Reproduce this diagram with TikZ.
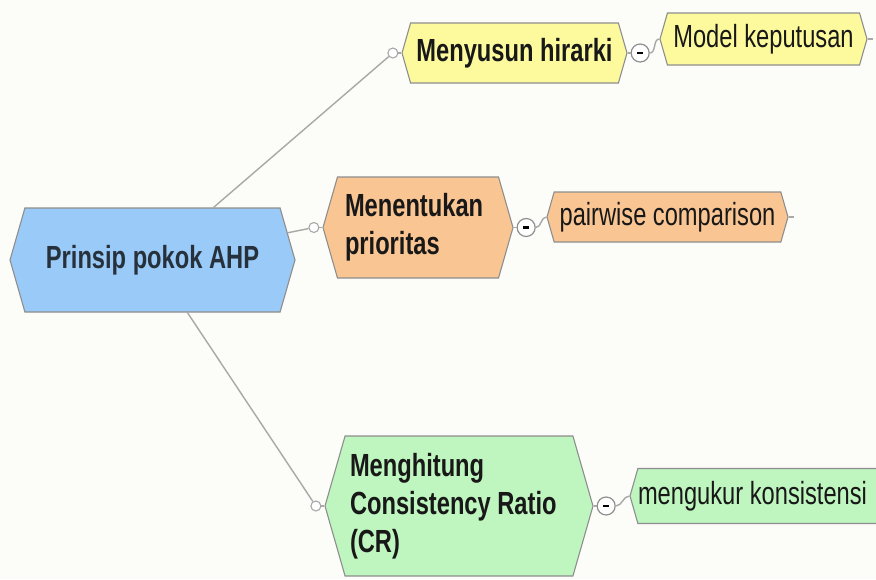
\documentclass[tikz,border=0pt]{standalone}
\usepackage{fontspec}
\setmainfont{Liberation Sans}[FakeStretch=0.74]
\usetikzlibrary{shapes.symbols,positioning}
\definecolor{blue7}{HTML}{9ACAF8}
\definecolor{yellow9}{HTML}{FDFA9E}
\definecolor{orange8}{HTML}{F9C693}
\definecolor{green9}{HTML}{BFF5BE}
\definecolor{gray5}{HTML}{8E8E8E}
\definecolor{gray6}{HTML}{A8A8A8}
\definecolor{ink}{HTML}{181818}
\definecolor{slate}{HTML}{27313C}
\definecolor{paper}{HTML}{FCFCF8}

\tikzset{
  hexa/.style={signal, signal to=west and east, signal pointer angle=148,
    draw=gray5, line width=1.1pt, inner sep=0pt, text=ink,
    font=\fontsize{32}{38}\selectfont},
  topic/.style={hexa, font=\fontsize{32}{38}\selectfont\bfseries},
  leaf/.style={hexa},
  knob/.style={circle, draw=gray6, fill=white, line width=1.1pt,
    minimum size=10pt, inner sep=0pt},
  minusknob/.style={circle, draw=gray5, fill=white, line width=1.2pt,
    minimum size=18pt, inner sep=0pt},
  link/.style={draw=gray6, line width=1.4pt},
}

\begin{document}
\begin{tikzpicture}[x=1pt, y=-1pt]
\fill[paper] (0,0) rectangle (876,579);
\useasboundingbox (0,0) rectangle (876,579);

% main topic
\node[topic, fill=blue7, text=slate, minimum width=285pt, minimum height=104pt] (root) at (152.5,260) {Prinsip pokok AHP};

% sub topics
\node[topic, fill=yellow9, minimum width=225pt, minimum height=60pt] (hier) at (514.5,53) {Menyusun hirarki};
\node[topic, fill=orange8, minimum width=190pt, minimum height=101pt,
  text width=146pt, align=flush left] (prio) at (418,227.5) {Menentukan\\prioritas};
\node[topic, fill=green9, minimum width=268pt, minimum height=140pt,
  text width=218pt, align=flush left] (cr) at (459,506) {Menghitung\\Consistency Ratio\\(CR)};

% leaves
\node[leaf, fill=yellow9, minimum width=207pt, minimum height=52pt] (model) at (763.5,39) {Model keputusan};
\node[leaf, fill=orange8, minimum width=241pt, minimum height=50pt] (pair) at (667.5,217) {pairwise comparison};
\node[leaf, fill=green9, minimum width=274pt, minimum height=55pt,
  text width=258pt, align=flush left] (kons) at (767,496) {mengukur konsistensi};

% knobs
\node[knob, left=3pt of hier.west] (k1) {};
\node[knob, left=3pt of prio.west] (k2) {};
\node[knob, left=3pt of cr.west] (k3) {};
\node[minusknob, right=3pt of hier.east] (m1) {\rule{6pt}{2.6pt}};
\node[minusknob, right=3pt of prio.east] (m2) {\rule{6pt}{2.6pt}};
\node[minusknob, right=3pt of cr.east] (m3) {\rule{6pt}{2.6pt}};

% links
\foreach \k/\t in {k1/hier, k2/prio, k3/cr} {
  \draw[link] (root) -- (\k);
  \draw[link] (\k) -- (\t.west);
}
\foreach \m/\p/\c in {m1/hier/model, m2/prio/pair, m3/cr/kons} {
  \draw[link] (\p.east) -- (\m);
  \draw[link] (\m.east) to[out=0, in=180] (\c.west);
}
\draw[link] (model.east) -- +(5,0);
\draw[link] (pair.east) -- +(5,0);
\end{tikzpicture}
\end{document}
